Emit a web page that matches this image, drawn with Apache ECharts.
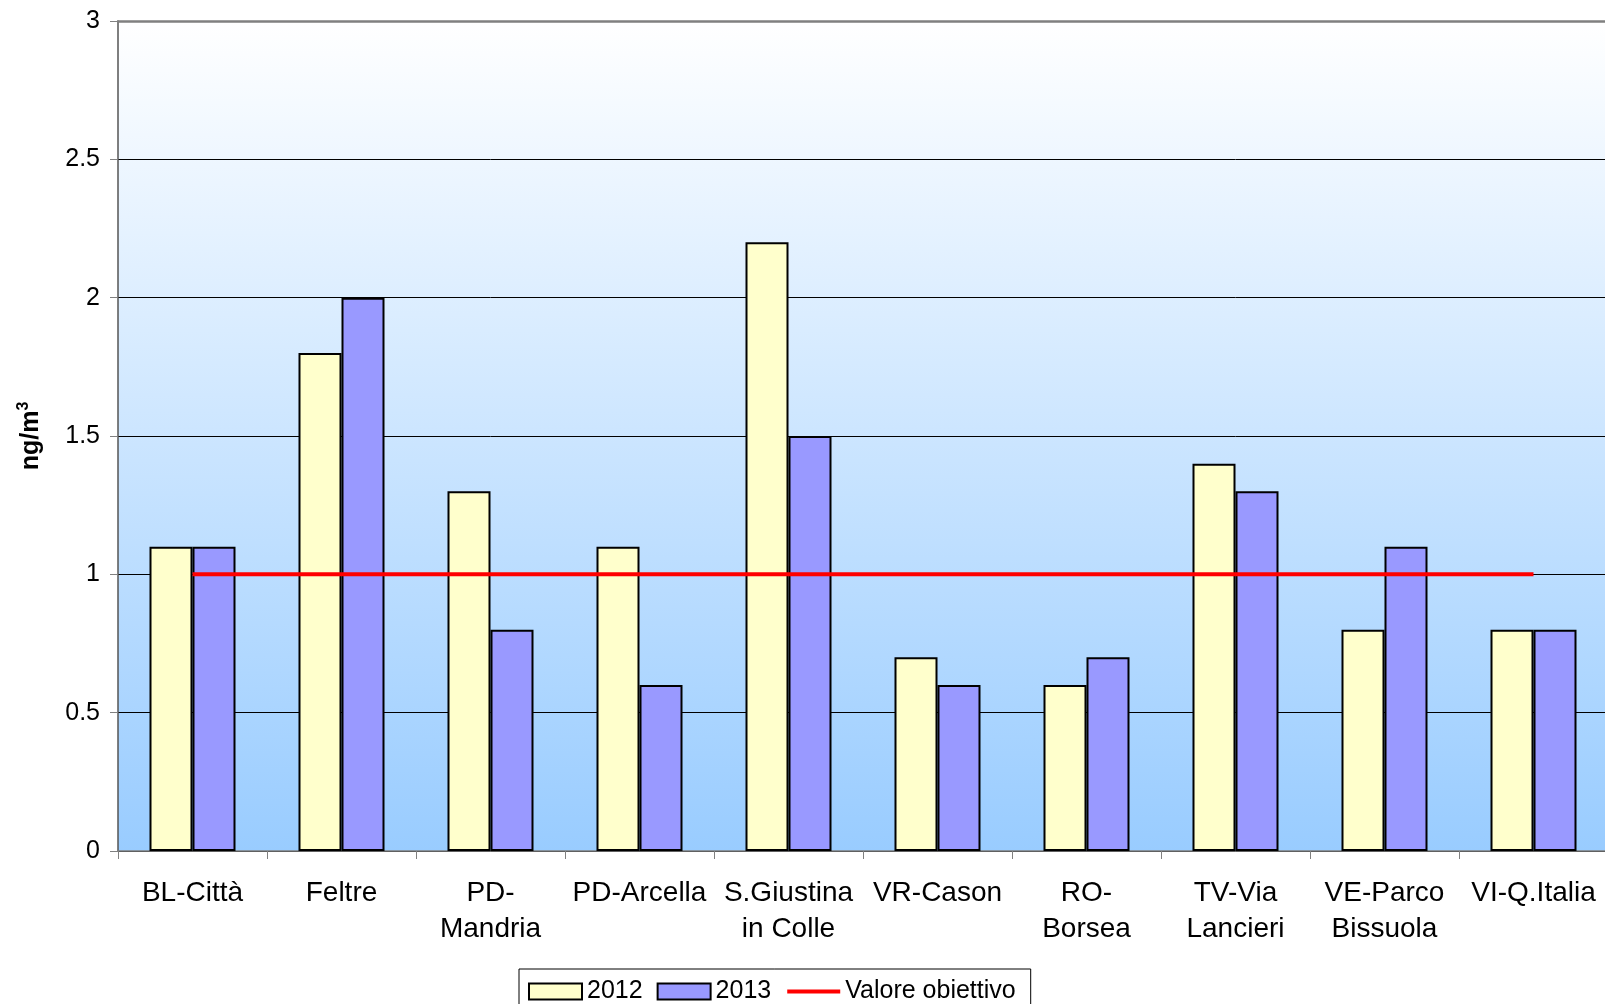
<!DOCTYPE html>
<html>
<head>
<meta charset="utf-8">
<script src="https://cdn.jsdelivr.net/npm/echarts@6/dist/echarts.min.js"></script>
<style>
html,body{margin:0;padding:0;background:#fff;overflow:hidden;}
#c{width:1612px;height:1004px;}
</style>
</head>
<body>
<div id="c"></div>
<script>
var categories = ['BL-Città','Feltre','PD-\nMandria','PD-Arcella','S.Giustina\nin Colle','VR-Cason','RO-\nBorsea','TV-Via\nLancieri','VE-Parco\nBissuola','VI-Q.Italia'];
var values2012 = [1.1, 1.8, 1.3, 1.1, 2.2, 0.7, 0.6, 1.4, 0.8, 0.8];
var values2013 = [1.1, 2.0, 0.8, 0.6, 1.5, 0.6, 0.7, 1.3, 1.1, 0.8];
var target = [1, 1, 1, 1, 1, 1, 1, 1, 1, 1];
var yTicks = [0, 0.5, 1, 1.5, 2, 2.5, 3];

var FONT = '"Liberation Sans", Arial, sans-serif';
var chart = echarts.init(document.getElementById('c'));
chart.setOption({
  animation: false,
  backgroundColor: '#ffffff',
  textStyle: { fontFamily: FONT, color: '#000' },
  grid: {
    left: 118, right: 4, top: 21, bottom: 153,
    show: true, borderWidth: 0,
    backgroundColor: new echarts.graphic.LinearGradient(0, 0, 0, 1, [
      { offset: 0, color: '#FFFFFF' },
      { offset: 1, color: '#99CCFF' }
    ])
  },
  legend: {
    left: 519, top: 969,
    padding: [10, 15, 12, 9],
    itemWidth: 53, itemHeight: 16, itemGap: 14,
    borderColor: '#000', borderWidth: 1,
    backgroundColor: '#fff',
    textStyle: { fontSize: 25, fontFamily: FONT, color: '#000' },
    data: [
      { name: '2012', icon: 'rect' },
      { name: '2013', icon: 'rect' },
      { name: 'Valore obiettivo', itemStyle: { opacity: 0 }, lineStyle: { width: 4, color: '#FF0000' } }
    ]
  },
  xAxis: [{
    type: 'category',
    data: categories,
    boundaryGap: true,
    axisLine: { lineStyle: { color: '#808080', width: 1.5 } },
    axisTick: { show: true, length: 8, lineStyle: { color: '#808080' } },
    axisLabel: { interval: 0, fontSize: 28, lineHeight: 36, margin: 24, color: '#000', fontFamily: FONT }
  }, {
    type: 'category',
    position: 'top',
    data: categories,
    axisLine: { show: true, lineStyle: { color: '#808080', width: 2.5 } },
    axisTick: { show: false },
    axisLabel: { show: false }
  }],
  yAxis: {
    type: 'value',
    min: 0, max: 3, interval: 0.5,
    name: '{a|ng/m}{b|3}',
    nameLocation: 'middle',
    nameGap: 72,
    nameRotate: 90,
    nameTextStyle: {
      rich: {
        a: { fontSize: 25, fontWeight: 'bold', fontFamily: FONT, color: '#000' },
        b: { fontSize: 16, fontWeight: 'bold', fontFamily: FONT, color: '#000', verticalAlign: 'top', padding: [0, 0, 14, 0] }
      }
    },
    axisLine: { show: true, lineStyle: { color: '#555', width: 1.5 } },
    axisTick: { show: true, length: 8, lineStyle: { color: '#808080' } },
    axisLabel: { fontSize: 25, margin: 18, color: '#000', fontFamily: FONT,
      formatter: function (v) { return yTicks.indexOf(v) >= 0 ? String(v) : ''; } },
    splitLine: { show: true, lineStyle: { color: '#000', width: 1 } }
  },
  series: [
    {
      name: '2012', type: 'bar', data: values2012,
      barWidth: 43, barGap: '0%',
      itemStyle: { color: '#FFFFCC', borderColor: '#000', borderWidth: 2 }
    },
    {
      name: '2013', type: 'bar', data: values2013,
      barWidth: 43, barGap: '0%',
      itemStyle: { color: '#9999FF', borderColor: '#000', borderWidth: 2 }
    },
    {
      name: 'Valore obiettivo', type: 'line', data: target,
      symbol: 'none', z: 5,
      lineStyle: { color: '#FF0000', width: 4 },
      itemStyle: { color: '#FF0000' }
    }
  ]
});
</script>
</body>
</html>
